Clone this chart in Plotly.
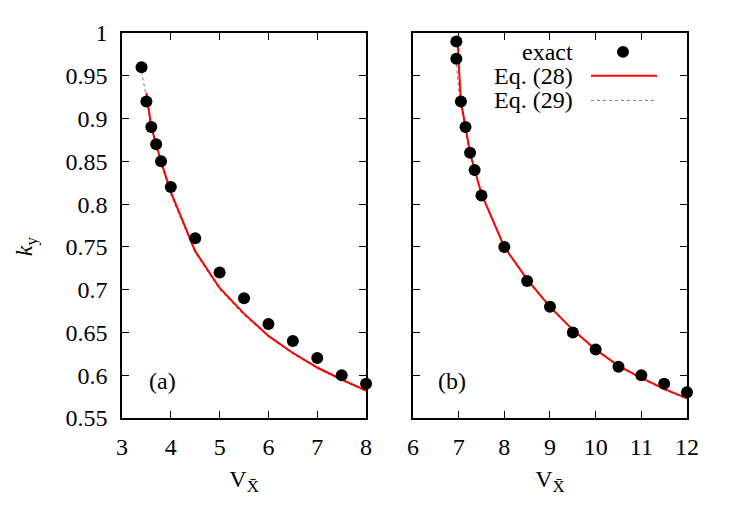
import plotly.graph_objects as go
from plotly.subplots import make_subplots

# Panel (a) data
a_exact_x = [3.4, 3.5, 3.6, 3.7, 3.8, 4.0, 4.5, 5.0, 5.5, 6.0, 6.5, 7.0, 7.5, 8.0]
a_exact_y = [0.96, 0.92, 0.89, 0.87, 0.85, 0.82, 0.76, 0.72, 0.69, 0.66, 0.64, 0.62, 0.60, 0.59]
a_eq28_x = [3.5, 3.6, 3.8, 4.0, 4.5, 5.0, 5.5, 6.0, 6.5, 7.0, 7.5, 8.0]
a_eq28_y = [0.930, 0.890, 0.850, 0.814, 0.745, 0.702, 0.672, 0.646, 0.626, 0.609, 0.595, 0.582]
a_eq29_x = [3.4, 3.5, 3.6, 3.8, 4.0, 4.5, 5.0, 5.5, 6.0, 6.5, 7.0, 7.5, 8.0]
a_eq29_y = [0.955, 0.925, 0.887, 0.847, 0.811, 0.743, 0.700, 0.670, 0.645, 0.625, 0.608, 0.594, 0.581]

# Panel (b) data
b_exact_x = [6.95, 6.95, 7.05, 7.15, 7.25, 7.35, 7.5, 8.0, 8.5, 9.0, 9.5, 10.0, 10.5, 11.0, 11.5, 12.0]
b_exact_y = [0.99, 0.97, 0.92, 0.89, 0.86, 0.84, 0.81, 0.75, 0.71, 0.68, 0.65, 0.63, 0.61, 0.60, 0.59, 0.58]
b_eq28_x = [6.98, 7.0, 7.05, 7.15, 7.25, 7.35, 7.5, 8.0, 8.5, 9.0, 9.5, 10.0, 10.5, 11.0, 11.5, 12.0]
b_eq28_y = [0.995, 0.965, 0.92, 0.89, 0.86, 0.84, 0.812, 0.75, 0.712, 0.68, 0.653, 0.63, 0.611, 0.597, 0.584, 0.573]
b_eq29_x = [6.95, 6.97, 7.03, 7.15, 7.25, 7.35, 7.5, 8.0, 8.5, 9.0, 9.5, 10.0, 10.5, 11.0, 11.5, 12.0]
b_eq29_y = [0.97, 0.95, 0.92, 0.889, 0.859, 0.839, 0.811, 0.749, 0.711, 0.679, 0.652, 0.629, 0.610, 0.596, 0.583, 0.572]

y_ticks = [0.55, 0.6, 0.65, 0.7, 0.75, 0.8, 0.85, 0.9, 0.95, 1.0]
y_tick_labels = ["0.55", "0.6", "0.65", "0.7", "0.75", "0.8", "0.85", "0.9", "0.95", "1"]

FONT = "Liberation Serif"
RED = "#ff0000"
GRAY = "#777777"

fig = make_subplots(rows=1, cols=2, horizontal_spacing=0.083)
fig.layout.xaxis.domain = [0, 0.432]
fig.layout.xaxis2.domain = [0.515, 1.0]

for col, (ex, ey, lx, ly, dx, dy) in enumerate([
    (a_exact_x, a_exact_y, a_eq28_x, a_eq28_y, a_eq29_x, a_eq29_y),
    (b_exact_x, b_exact_y, b_eq28_x, b_eq28_y, b_eq29_x, b_eq29_y),
], start=1):
    fig.add_trace(go.Scatter(x=dx, y=dy, mode="lines", line=dict(color=GRAY, width=1, dash="dot"),
                             showlegend=False, hoverinfo="skip"), row=1, col=col)
    fig.add_trace(go.Scatter(x=lx, y=ly, mode="lines", line=dict(color=RED, width=2),
                             showlegend=False), row=1, col=col)
    fig.add_trace(go.Scatter(x=ex, y=ey, mode="markers", marker=dict(color="black", size=12),
                             cliponaxis=False, showlegend=False), row=1, col=col)

axis_common = dict(showgrid=False, zeroline=False, showline=True, linecolor="black", linewidth=1.5,
                   mirror="allticks", ticks="inside", ticklen=7, tickwidth=1.2, tickcolor="black",
                   tickfont=dict(family=FONT, size=24, color="black"))

fig.update_xaxes(range=[3, 8], dtick=1, tick0=3, ticklabelstandoff=6, **axis_common, row=1, col=1)
fig.update_xaxes(range=[6, 12], dtick=1, tick0=6, ticklabelstandoff=6, **axis_common, row=1, col=2)
fig.update_yaxes(range=[0.55, 1.0], tickvals=y_ticks, ticktext=y_tick_labels, ticklabelstandoff=8,
                 **axis_common, row=1, col=1)
fig.update_yaxes(range=[0.55, 1.0], tickvals=y_ticks, showticklabels=False, **axis_common, row=1, col=2)

title_font = dict(family=FONT, size=24, color="black")
fig.update_xaxes(title=dict(text="V<sub>X̄</sub>", font=title_font, standoff=12), row=1, col=1)
fig.update_xaxes(title=dict(text="V<sub>X̄</sub>", font=title_font, standoff=12), row=1, col=2)

annotations = [
    dict(text="<i>k</i><sub>y</sub>", xref="paper", yref="paper", x=-0.17, y=0.446,
         xanchor="center", yanchor="middle", showarrow=False, textangle=-90, font=title_font),
    dict(text="(a)", xref="x", yref="y", x=3.82, y=0.593, showarrow=False, font=title_font),
    dict(text="(b)", xref="x2", yref="y2", x=6.85, y=0.593, showarrow=False, font=title_font),
    dict(text="exact", xref="paper", yref="paper", x=0.802, y=0.951, xanchor="right", yanchor="middle",
         showarrow=False, font=title_font),
    dict(text="Eq. (28)", xref="paper", yref="paper", x=0.802, y=0.889, xanchor="right", yanchor="middle",
         showarrow=False, font=title_font),
    dict(text="Eq. (29)", xref="paper", yref="paper", x=0.802, y=0.825, xanchor="right", yanchor="middle",
         showarrow=False, font=title_font),
]

shapes = [
    dict(type="circle", xref="paper", yref="paper", x0=0.8867 - 0.0106, x1=0.8867 + 0.0106,
         y0=0.951 - 0.0155, y1=0.951 + 0.0155, fillcolor="black", line=dict(color="black", width=0)),
    dict(type="line", xref="paper", yref="paper", x0=0.830, x1=0.947, y0=0.889, y1=0.889,
         line=dict(color=RED, width=2)),
    dict(type="line", xref="paper", yref="paper", x0=0.830, x1=0.947, y0=0.825, y1=0.825,
         line=dict(color=GRAY, width=1, dash="dot")),
]

fig.update_layout(
    width=739, height=515,
    margin=dict(l=114, r=60, t=22, b=105),
    paper_bgcolor="white", plot_bgcolor="white",
    annotations=annotations, shapes=shapes,
    font=dict(family=FONT, color="black"),
)

fig.write_html("out.html")
